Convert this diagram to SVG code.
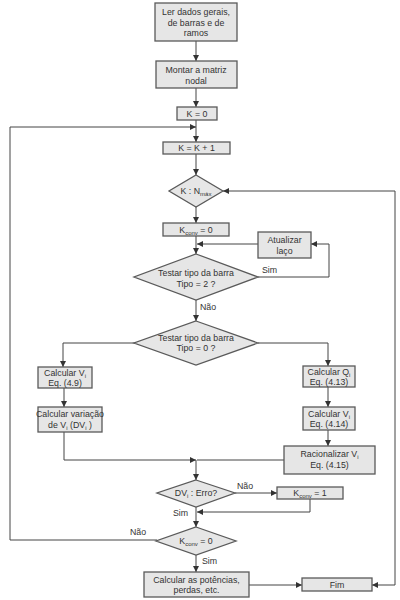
<svg xmlns="http://www.w3.org/2000/svg" width="400" height="600" viewBox="0 0 400 600">
<style>
.n rect, .n polygon { fill: #e6e6e6; stroke: #5a5a5a; stroke-width: 1.3; }
text { font-family: "Liberation Sans", Arial, sans-serif; font-size: 8.8px; fill: #333; }
.c { text-anchor: middle; }
.s { font-size: 6px; }
.e path { fill: none; stroke: #444; stroke-width: 1; }
</style>
<defs>
<marker id="a" viewBox="0 0 10 10" refX="10" refY="5" markerWidth="6" markerHeight="6" orient="auto" markerUnits="userSpaceOnUse">
<path d="M0,0 L10,5 L0,10 z" fill="#333"/>
</marker>
</defs>
<rect width="400" height="600" fill="#fff"/>

<g class="e">
<path d="M196,41 V61" marker-end="url(#a)"/>
<path d="M196,88 V107" marker-end="url(#a)"/>
<path d="M196,120 V142" marker-end="url(#a)"/>
<path d="M196,154 V175" marker-end="url(#a)"/>
<path d="M196,207 V223" marker-end="url(#a)"/>
<path d="M196,236 V254" marker-end="url(#a)"/>
<path d="M258,244 H197" marker-end="url(#a)"/>
<path d="M258,277 H329 V244 H311" marker-end="url(#a)"/>
<path d="M196,300 V321" marker-end="url(#a)"/>
<path d="M135,343 H63 V367" marker-end="url(#a)"/>
<path d="M258,343 H328 V366" marker-end="url(#a)"/>
<path d="M64,388 V407" marker-end="url(#a)"/>
<path d="M328,387 V407" marker-end="url(#a)"/>
<path d="M328,430 V446" marker-end="url(#a)"/>
<path d="M64,432 V460 H196" marker-end="url(#a)"/>
<path d="M284,460 H197"/>
<path d="M196,460 V480" marker-end="url(#a)"/>
<path d="M235,493 H277" marker-end="url(#a)"/>
<path d="M310,499 V512 H197" marker-end="url(#a)"/>
<path d="M196,507 V527" marker-end="url(#a)"/>
<path d="M157,540 H10 V127 H196" marker-end="url(#a)"/>
<path d="M196,555 V572" marker-end="url(#a)"/>
<path d="M249,585 H302" marker-end="url(#a)"/>
<path d="M395,191 H223" marker-end="url(#a)"/>
<path d="M395,191 V585 H372" marker-end="url(#a)"/>
</g>

<g id="ler" class="n">
<rect x="155" y="3" width="82" height="38"/>
<text class="c" x="196" y="15">Ler dados gerais,</text>
<text class="c" x="196" y="25.5">de barras e de</text>
<text class="c" x="196" y="36">ramos</text>
</g>
<g id="montar" class="n">
<rect x="156" y="61" width="81" height="27"/>
<text class="c" x="196" y="73">Montar a matriz</text>
<text class="c" x="196" y="83.5">nodal</text>
</g>
<g id="k0" class="n">
<rect x="177" y="107" width="40" height="13"/>
<text class="c" x="197" y="116.8">K = 0</text>
</g>
<g id="kk1" class="n">
<rect x="163" y="142" width="67" height="12"/>
<text class="c" x="196.5" y="151.3">K = K + 1</text>
</g>
<g id="knmax" class="n">
<polygon points="196,175 223,191 196,207 169,191"/>
<text class="c" x="196" y="194">K : N<tspan class="s" dy="2">máx</tspan></text>
</g>
<g id="kconv0" class="n">
<rect x="163" y="223" width="66" height="13"/>
<text class="c" x="196" y="232.8">K<tspan class="s" dy="2">conv</tspan><tspan dy="-2"> = 0</tspan></text>
</g>
<g id="atualizar" class="n">
<rect x="258" y="232" width="53" height="26"/>
<text class="c" x="284.5" y="243">Atualizar</text>
<text class="c" x="284.5" y="253.5">laço</text>
</g>
<g id="tipo2" class="n">
<polygon points="196,254 258,277 196,300 134,277"/>
<text class="c" x="196" y="276">Testar tipo da barra</text>
<text class="c" x="196" y="286.5">Tipo = 2 ?</text>
</g>
<text x="262" y="273">Sim</text>
<text x="200" y="310">Não</text>
<g id="tipo0" class="n">
<polygon points="196,321 258,343 196,365 134,343"/>
<text class="c" x="196" y="341">Testar tipo da barra</text>
<text class="c" x="196" y="350.5">Tipo = 0 ?</text>
</g>
<g id="calcvi" class="n">
<rect x="38" y="367" width="54" height="21"/>
<text class="c" x="65" y="375.5">Calcular V<tspan class="s" dy="2">i</tspan></text>
<text class="c" x="65" y="385.5">Eq. (4.9)</text>
</g>
<g id="calcvar" class="n">
<rect x="38" y="407" width="64" height="25"/>
<text class="c" x="70" y="417">Calcular variação</text>
<text class="c" x="70" y="427.5">de V<tspan class="s" dy="2">i</tspan><tspan dy="-2"> (DV</tspan><tspan class="s" dy="2">i</tspan><tspan dy="-2"> )</tspan></text>
</g>
<g id="calcqi" class="n">
<rect x="303" y="366" width="52" height="21"/>
<text class="c" x="329" y="375">Calcular Q<tspan class="s" dy="2">i</tspan></text>
<text class="c" x="329" y="385">Eq. (4.13)</text>
</g>
<g id="calcvi2" class="n">
<rect x="303" y="407" width="52" height="23"/>
<text class="c" x="329" y="416.5">Calcular V<tspan class="s" dy="2">i</tspan></text>
<text class="c" x="329" y="427">Eq. (4.14)</text>
</g>
<g id="racion" class="n">
<rect x="284" y="446" width="91" height="28"/>
<text class="c" x="329.5" y="457">Racionalizar V<tspan class="s" dy="2">i</tspan></text>
<text class="c" x="329.5" y="468">Eq. (4.15)</text>
</g>
<g id="dverro" class="n">
<polygon points="196,480 235,493 196,507 157,493"/>
<text class="c" x="196" y="496.3">DV<tspan class="s" dy="2">i</tspan><tspan dy="-2"> : Erro?</tspan></text>
</g>
<text x="237" y="489">Não</text>
<g id="kconv1" class="n">
<rect x="277" y="487" width="66" height="12"/>
<text class="c" x="310" y="496">K<tspan class="s" dy="2">conv</tspan><tspan dy="-2"> = 1</tspan></text>
</g>
<text x="173" y="516">Sim</text>
<g id="kconvtest" class="n">
<polygon points="196,527 236,541 196,555 156,541"/>
<text class="c" x="196" y="543.5">K<tspan class="s" dy="2">conv</tspan><tspan dy="-2"> = 0</tspan></text>
</g>
<text x="130" y="535">Não</text>
<text x="202" y="564">Sim</text>
<g id="potencias" class="n">
<rect x="144" y="572" width="105" height="25"/>
<text class="c" x="196.5" y="582.5">Calcular as potências,</text>
<text class="c" x="196.5" y="593">perdas, etc.</text>
</g>
<g id="fim" class="n">
<rect x="302" y="578" width="70" height="13"/>
<text class="c" x="337" y="587.8">Fim</text>
</g>
</svg>
